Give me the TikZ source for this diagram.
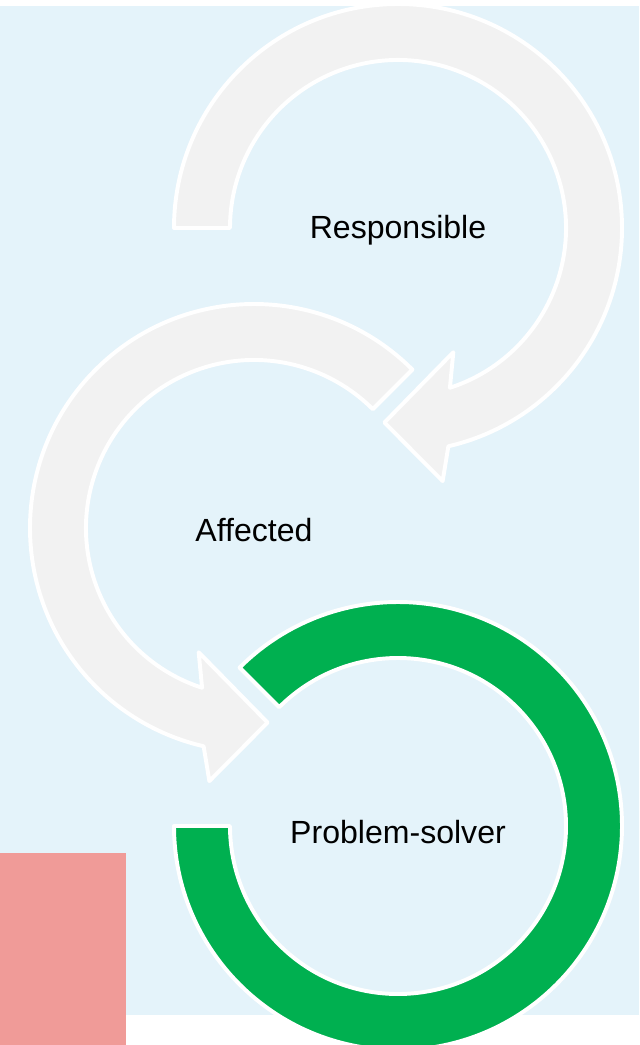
\documentclass[tikz,border=0pt]{standalone}
\usepackage{fontspec}
\setmainfont{Liberation Sans}
\usepackage{tikz}
\usetikzlibrary{positioning}
\definecolor{panelblue}{HTML}{E4F3FA}
\definecolor{ringgray}{HTML}{F2F2F2}
\definecolor{ringgreen}{HTML}{00B050}
\definecolor{blockpink}{HTML}{F09B98}

\begin{document}
\begin{tikzpicture}[
  x=0.025cm, y=0.025cm,
  ring/.style={fill=ringgray, draw=white, line width=2.8pt, line join=round},
  lastring/.style={ring, fill=ringgreen},
  steptext/.style={font=\fontsize{22.8}{27}\selectfont, text=black, inner sep=0pt},
  ]
  \useasboundingbox (0,0) rectangle (639,-1045);
  \fill[panelblue] (0,-6.5) rectangle (639,-1015);
  \fill[blockpink] (0,-853) rectangle (126,-1045);

  % first arrow, clockwise from the left
  \begin{scope}[shift={(398,-228)}]
    \draw[ring] (180:224) arc[start angle=180, end angle=-77, radius=224]
      -- (-80:257) -- (-94:195) -- (-66:136) -- (-72:168)
      arc[start angle=-72, end angle=180, radius=168] -- cycle;
  \end{scope}

  % second arrow, anticlockwise
  \begin{scope}[shift={(254,-528)}]
    \draw[ring] (45:224) arc[start angle=45, end angle=257, radius=224]
      -- (-100:257) -- (-86:195) -- (-114:136) -- (-108:168)
      arc[start angle=252, end angle=45, radius=168] -- cycle;
  \end{scope}

  % last one, no head
  \begin{scope}[shift={(398,-826)}]
    \draw[lastring] (180:224) arc[start angle=180, end angle=495, radius=224]
      -- (135:168) arc[start angle=135, end angle=-180, radius=168] -- cycle;
  \end{scope}

  \node[steptext] (resp) at (398,-230) {Responsible};
  \node[steptext] (aff) at (254,-530) {Affected};
  \node[steptext] (solver) at (398,-832) {Problem-solver};
\end{tikzpicture}
\end{document}
